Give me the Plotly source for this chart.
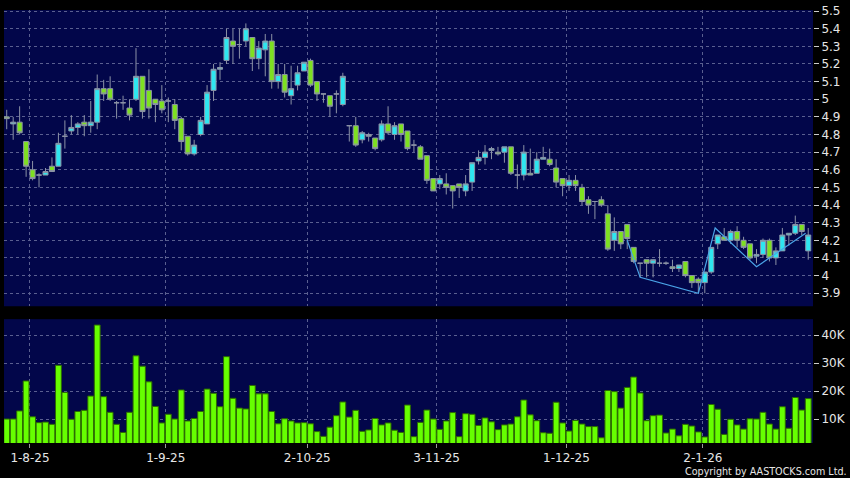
import plotly.graph_objects as go
from plotly.subplots import make_subplots

# ── Palette ──────────────────────────────────────────────────────────────────
PAPER   = "#000000"
NAVY    = "#02064a"
GRID    = "#5a5f90"
CYAN    = "#2ee6f0"
LIME    = "#7ee021"
WICK    = "#8c93a6"
VOL     = "#66ff00"
VOL_EDGE = "#2d6b00"
ZIGZAG  = "#4aa3e6"
TEXT    = "#e6e6e6"

# ── Data (trading-day index 0..124, late Jul 2025 -> late Jan 2026) ──────────
day = list(range(125))

open_ = [4.90, 4.86, 4.87, 4.76, 4.60, 4.57, 4.57, 4.62, 4.62, 4.79,
         4.82, 4.84, 4.87, 4.85, 4.87, 5.06, 5.06, 4.98, 4.98, 4.95,
         5.00, 5.13, 5.05, 5.00, 4.99, 4.99, 4.97, 4.89, 4.79, 4.69,
         4.80, 4.86, 5.05, 5.17, 5.22, 5.33, 5.31, 5.33, 5.35, 5.23,
         5.28, 5.33, 5.10, 5.14, 5.02, 5.08, 5.16, 5.22, 5.10, 5.03,
         5.02, 5.03, 4.97, 4.85, 4.85, 4.77, 4.80, 4.78, 4.77, 4.86,
         4.80, 4.86, 4.82, 4.74, 4.73, 4.68, 4.55, 4.52, 4.52, 4.51,
         4.52, 4.48, 4.53, 4.65, 4.67, 4.71, 4.70, 4.70, 4.73, 4.57,
         4.57, 4.58, 4.58, 4.66, 4.66, 4.61, 4.55, 4.51, 4.54, 4.50,
         4.43, 4.42, 4.43, 4.35, 4.20, 4.25, 4.29, 4.16, 4.07, 4.09,
         4.07, 4.07, 4.07, 4.05, 4.04, 4.08, 4.00, 3.98, 3.96, 4.02,
         4.18, 4.22, 4.20, 4.25, 4.20, 4.18, 4.11, 4.12, 4.20, 4.10,
         4.14, 4.23, 4.24, 4.29, 4.14]
high = [4.94, 4.90, 4.96, 4.76, 4.65, 4.58, 4.61, 4.67, 4.81, 4.88,
        4.91, 4.87, 4.91, 4.99, 5.14, 5.11, 5.13, 4.99, 5.02, 5.00,
        5.29, 5.13, 5.17, 5.00, 5.08, 5.01, 5.00, 4.90, 4.79, 4.77,
        4.90, 5.08, 5.20, 5.21, 5.40, 5.40, 5.40, 5.43, 5.35, 5.33,
        5.37, 5.37, 5.20, 5.20, 5.19, 5.19, 5.21, 5.23, 5.10, 5.03,
        5.02, 5.05, 5.15, 4.85, 4.90, 4.82, 4.81, 4.78, 4.88, 4.96,
        4.87, 4.86, 4.82, 4.77, 4.74, 4.68, 4.55, 4.57, 4.58, 4.51,
        4.52, 4.57, 4.64, 4.71, 4.74, 4.73, 4.73, 4.73, 4.73, 4.63,
        4.74, 4.72, 4.70, 4.73, 4.72, 4.66, 4.55, 4.57, 4.57, 4.52,
        4.45, 4.42, 4.45, 4.40, 4.33, 4.25, 4.29, 4.16, 4.07, 4.09,
        4.09, 4.15, 4.08, 4.09, 4.06, 4.08, 4.00, 3.99, 4.02, 4.16,
        4.23, 4.27, 4.26, 4.28, 4.22, 4.18, 4.15, 4.21, 4.21, 4.16,
        4.27, 4.24, 4.34, 4.29, 4.27]
low = [4.83, 4.77, 4.80, 4.56, 4.54, 4.50, 4.57, 4.59, 4.62, 4.72,
       4.80, 4.80, 4.79, 4.81, 4.83, 4.99, 4.99, 4.89, 4.94, 4.88,
       4.99, 4.89, 4.89, 4.87, 4.92, 4.87, 4.83, 4.71, 4.68, 4.68,
       4.79, 4.86, 4.99, 5.11, 5.20, 5.20, 5.23, 5.30, 5.16, 5.17,
       5.13, 5.06, 5.06, 5.01, 4.97, 5.05, 5.16, 5.07, 4.99, 4.98,
       4.90, 4.92, 4.96, 4.76, 4.73, 4.75, 4.76, 4.71, 4.76, 4.80,
       4.77, 4.76, 4.71, 4.70, 4.66, 4.52, 4.48, 4.49, 4.46, 4.38,
       4.44, 4.45, 4.48, 4.63, 4.63, 4.66, 4.68, 4.64, 4.57, 4.49,
       4.54, 4.57, 4.58, 4.66, 4.62, 4.50, 4.45, 4.48, 4.48, 4.40,
       4.35, 4.32, 4.39, 4.14, 4.14, 4.15, 4.15, 4.07, 3.99, 3.99,
       3.99, 4.05, 4.06, 4.02, 4.02, 3.99, 3.93, 3.90, 3.90, 4.01,
       4.15, 4.20, 4.18, 4.16, 4.15, 4.09, 4.07, 4.10, 4.08, 4.06,
       4.14, 4.17, 4.23, 4.23, 4.09]
close = [4.89, 4.87, 4.81, 4.62, 4.55, 4.57, 4.59, 4.59, 4.75, 4.79,
         4.84, 4.86, 4.85, 4.87, 5.06, 5.03, 5.00, 4.98, 4.98, 4.91,
         5.13, 4.93, 4.95, 4.97, 4.94, 4.99, 4.88, 4.76, 4.69, 4.74,
         4.88, 5.04, 5.17, 5.18, 5.35, 5.30, 5.31, 5.40, 5.23, 5.29,
         5.33, 5.10, 5.14, 5.04, 5.06, 5.15, 5.21, 5.08, 5.03, 5.03,
         4.96, 5.03, 5.13, 4.85, 4.74, 4.81, 4.79, 4.72, 4.86, 4.81,
         4.85, 4.80, 4.72, 4.74, 4.66, 4.54, 4.48, 4.55, 4.50, 4.48,
         4.50, 4.52, 4.64, 4.67, 4.70, 4.72, 4.69, 4.73, 4.58, 4.57,
         4.70, 4.57, 4.66, 4.67, 4.63, 4.53, 4.51, 4.54, 4.51, 4.42,
         4.40, 4.42, 4.40, 4.15, 4.25, 4.18, 4.21, 4.08, 4.07, 4.07,
         4.09, 4.07, 4.07, 4.04, 4.06, 4.00, 3.96, 3.96, 4.02, 4.16,
         4.23, 4.20, 4.25, 4.20, 4.16, 4.10, 4.12, 4.20, 4.10, 4.14,
         4.23, 4.24, 4.29, 4.25, 4.23]

volume = [10.0, 10.0, 12.9, 23.6, 10.8, 8.7, 8.9, 8.1, 29.2, 19.5,
          9.9, 12.7, 13.1, 18.2, 43.6, 18.0, 12.4, 8.1, 5.2, 12.4,
          32.6, 28.9, 23.3, 14.5, 8.6, 11.7, 10.0, 20.4, 9.3, 10.2,
          12.7, 20.7, 19.2, 14.4, 32.3, 17.4, 13.9, 13.6, 22.0, 19.0,
          19.0, 12.7, 8.3, 10.1, 9.3, 8.6, 8.7, 8.3, 5.5, 3.8,
          7.1, 11.2, 16.1, 10.7, 13.1, 5.6, 6.1, 10.2, 7.9, 8.6,
          6.0, 5.2, 15.0, 3.7, 8.8, 13.2, 10.0, 6.3, 9.3, 12.3,
          3.7, 11.9, 11.7, 7.7, 10.4, 9.0, 6.2, 7.9, 8.2, 10.8,
          16.8, 11.5, 9.4, 5.1, 4.9, 16.0, 8.6, 5.7, 9.5, 8.2,
          7.3, 7.3, 3.3, 20.2, 19.8, 13.9, 21.3, 25.0, 19.3, 9.4,
          11.2, 11.4, 5.0, 6.4, 4.0, 8.1, 7.5, 5.4, 3.6, 15.2,
          13.5, 4.5, 9.9, 7.9, 6.4, 10.1, 10.0, 12.4, 8.2, 6.4,
          14.4, 6.7, 17.7, 13.2, 17.3]  # thousands

# zigzag overlay in the last stretch
zz_day   = [96, 98, 107, 109.6, 116, 123.6]
zz_price = [4.20, 3.99, 3.90, 4.27, 4.05, 4.24]

# month marks
month_pos    = [3.6, 24.6, 46.5, 66.5, 86.6, 107.7]
month_labels = ["1-8-25", "1-9-25", "2-10-25", "3-11-25", "1-12-25", "2-1-26"]

price_ticks  = [5.5, 5.4, 5.3, 5.2, 5.1, 5.0, 4.9, 4.8, 4.7, 4.6, 4.5,
                4.4, 4.3, 4.2, 4.1, 4.0, 3.9]
price_labels = ["5.5", "5.4", "5.3", "5.2", "5.1", "5", "4.9", "4.8", "4.7",
                "4.6", "4.5", "4.4", "4.3", "4.2", "4.1", "4", "3.9"]
vol_ticks  = [10, 20, 30, 40]
vol_labels = ["10K", "20K", "30K", "40K"]

# ── Figure ───────────────────────────────────────────────────────────────────
fig = make_subplots(rows=2, cols=1, shared_xaxes=True)

fig.add_trace(go.Candlestick(
    x=day, open=open_, high=high, low=low, close=close,
    increasing=dict(fillcolor=CYAN, line=dict(color=WICK, width=1)),
    decreasing=dict(fillcolor=LIME, line=dict(color=WICK, width=1)),
    whiskerwidth=0, showlegend=False, hoverinfo="skip",
), row=1, col=1)

fig.add_trace(go.Scatter(
    x=zz_day, y=zz_price, mode="lines",
    line=dict(color=ZIGZAG, width=1.2),
    showlegend=False, hoverinfo="skip",
), row=1, col=1)

fig.add_trace(go.Bar(
    x=day, y=volume,
    marker=dict(color=VOL, line=dict(color=VOL_EDGE, width=1)),
    showlegend=False, hoverinfo="skip",
), row=2, col=1)

xgrid = dict(
    range=[-0.42, 124.74], tickvals=month_pos, ticktext=month_labels,
    showgrid=True, gridcolor=GRID, griddash="3px,3px", gridwidth=1,
    zeroline=False, showline=False, rangeslider=dict(visible=False),
    tickfont=dict(family="DejaVu Sans", size=12, color=TEXT),
)
fig.update_xaxes(**xgrid)
fig.update_xaxes(showticklabels=False, ticks="", row=1, col=1)
fig.update_xaxes(ticks="outside", ticklen=4, tickcolor="#9a9a9a", row=2, col=1)

ygrid = dict(
    side="right", showgrid=True, gridcolor=GRID, griddash="3px,3px",
    gridwidth=1, zeroline=False, showline=False,
    ticks="outside", ticklen=5, tickcolor="#cccccc",
    tickfont=dict(family="DejaVu Sans", size=12, color=TEXT),
)
fig.update_yaxes(**ygrid)
fig.update_yaxes(range=[3.826, 5.506], tickvals=price_ticks,
                 ticktext=price_labels, domain=[0.3158, 1], row=1, col=1)
fig.update_yaxes(range=[1.43, 45.7], tickvals=vol_ticks,
                 ticktext=vol_labels, domain=[0, 0.286], row=2, col=1)

fig.add_annotation(
    text="Copyright by AASTOCKS.com Ltd.", xref="paper", yref="paper",
    x=1.044, y=-0.066, xanchor="right", yanchor="middle", showarrow=False,
    font=dict(family="DejaVu Sans", size=9.6, color=TEXT),
)

fig.update_layout(
    width=850, height=478,
    paper_bgcolor=PAPER, plot_bgcolor=NAVY,
    margin=dict(l=4, r=33, t=6, b=35),
    boxgap=0.22, boxgroupgap=0, bargap=0.1,
    hovermode=False, showlegend=False,
)

fig.write_html("out.html", config=dict(displayModeBar=False),
               post_script="document.body.style.margin='0';")
